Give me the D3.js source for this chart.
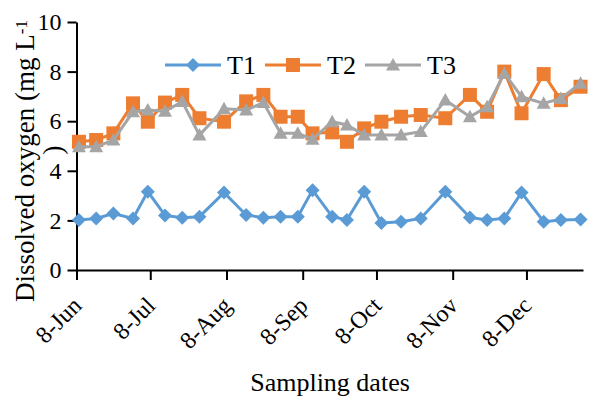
<!DOCTYPE html>
<html>
<head>
<meta charset="utf-8">
<script src="https://cdn.jsdelivr.net/npm/d3@7"></script>
</head>
<body style="margin:0; background:#fff">
<svg id="chart" width="593" height="401"></svg>
<script>
// sampling dates (weekly-ish, 2015)
const sampleDates = ["2015-06-09", "2015-06-16", "2015-06-23", "2015-07-01", "2015-07-07", "2015-07-14",
  "2015-07-21", "2015-07-28", "2015-08-07", "2015-08-16", "2015-08-23", "2015-08-30",
  "2015-09-06", "2015-09-12", "2015-09-20", "2015-09-26", "2015-10-03", "2015-10-10",
  "2015-10-18", "2015-10-26", "2015-11-05", "2015-11-15", "2015-11-22", "2015-11-29",
  "2015-12-06", "2015-12-15", "2015-12-22", "2015-12-30"];

const t1 = [2.02, 2.08, 2.28, 2.08, 3.16, 2.2, 2.11, 2.15, 3.12, 2.22, 2.11, 2.15,
  2.15, 3.22, 2.15, 2.02, 3.16, 1.9, 1.95, 2.08, 3.16, 2.12, 2.02, 2.08,
  3.12, 1.95, 2.02, 2.04];
const t2 = [5.17, 5.24, 5.51, 6.72, 5.98, 6.75, 7.06, 6.12, 5.98, 6.8, 7.06, 6.18,
  6.18, 5.51, 5.55, 5.17, 5.71, 5.98, 6.18, 6.25, 6.12, 7.06, 6.38, 8.0,
  6.32, 7.9, 6.85, 7.39];
const t3 = [4.97, 4.97, 5.24, 6.38, 6.45, 6.4, 6.79, 5.44, 6.5, 6.45, 6.75, 5.51,
  5.51, 5.27, 5.98, 5.85, 5.44, 5.44, 5.44, 5.58, 6.85, 6.18, 6.58, 7.93,
  6.99, 6.72, 6.92, 7.53];

const seriesNames = ["T1", "T2", "T3"];
const seriesColors = ["#5B9BD5", "#ED7D31", "#A5A5A5"];
const seriesShapes = ["diamond", "square", "triangle"];
const yTicks = [0, 2, 4, 6, 8, 10];
const monthTicks = ["2015-06-08", "2015-07-08", "2015-08-08", "2015-09-08", "2015-10-08", "2015-11-08", "2015-12-08"];

const fontFam = "Liberation Serif, serif";
const parse = d3.timeParse("%Y-%m-%d");
const svg = d3.select("#chart");

const x = d3.scaleTime()
  .domain([parse("2015-06-08"), parse("2015-12-31")])
  .range([76.5, 583]);
const y = d3.scaleLinear().domain([0, 10]).range([270, 22]);

// marker path by shape name
function marker(shape) {
  if (shape === "diamond") return "M0,-7L7,0L0,7L-7,0Z";
  if (shape === "square") return "M-7,-7H7V7H-7Z";
  return "M0,-7L7,5.5L-7,5.5Z";
}

// axes
const yAxis = svg.append("g")
  .attr("transform", "translate(76.5,0)")
  .call(d3.axisLeft(y).tickValues(yTicks).tickSize(9).tickSizeOuter(0).tickPadding(6));
yAxis.attr("font-family", fontFam).attr("font-size", 24);
yAxis.selectAll("text").attr("fill", "#000");

const xAxis = svg.append("g")
  .attr("transform", "translate(0,270)")
  .call(d3.axisBottom(x).tickValues(monthTicks.map(parse))
    .tickFormat(d3.timeFormat("%-d-%b")).tickSize(10).tickSizeOuter(0));
xAxis.attr("font-family", fontFam).attr("font-size", 24);
xAxis.selectAll("text")
  .attr("fill", "#000")
  .attr("text-anchor", "end")
  .attr("y", 0).attr("dy", 0)
  .attr("transform", "translate(6,37) rotate(-45)");

svg.selectAll(".domain, .tick line").attr("stroke", "#000").attr("stroke-width", 2);

// series
const allSeries = [t1, t2, t3];
const line = d3.line()
  .x(d => x(d.date))
  .y(d => y(d.v));

allSeries.forEach(function (vals, i) {
  const pts = vals.map((v, k) => ({ date: parse(sampleDates[k]), v: v }));
  svg.append("path")
    .datum(pts)
    .attr("d", line)
    .attr("fill", "none")
    .attr("stroke", seriesColors[i])
    .attr("stroke-width", 3);
  svg.selectAll(".m" + i).data(pts).enter().append("path")
    .attr("class", "m" + i)
    .attr("d", marker(seriesShapes[i]))
    .attr("transform", d => "translate(" + x(d.date) + "," + y(d.v) + ")")
    .attr("fill", seriesColors[i]);
});

// titles and legend share one group with the serif face
const labels = svg.append("g").attr("font-family", fontFam);

const legend = labels.append("g").attr("transform", "translate(165,65)");
seriesNames.forEach(function (name, i) {
  const g = legend.append("g").attr("transform", "translate(" + (i * 100) + ",0)");
  g.append("line").attr("x1", 0).attr("x2", 56).attr("y1", 0).attr("y2", 0)
    .attr("stroke", seriesColors[i]).attr("stroke-width", 3);
  g.append("path").attr("d", marker(seriesShapes[i]))
    .attr("transform", "translate(28,0)").attr("fill", seriesColors[i]);
  g.append("text").attr("x", 62).attr("y", 9)
    .attr("font-size", 26).text(name);
});

labels.append("text")
  .attr("x", 330).attr("y", 391)
  .attr("text-anchor", "middle")
  .attr("font-size", 26)
  .text("Sampling dates");

const yt = labels.append("text")
  .attr("transform", "translate(34,302) rotate(-90)")
  .attr("font-size", 27);
yt.append("tspan").text("Dissolved oxygen (mg L");
yt.append("tspan").attr("dy", "-0.4em").attr("font-size", 17).text("-1");
labels.append("text")
  .attr("transform", "translate(62,150) rotate(-90)")
  .attr("text-anchor", "middle")
  .attr("font-size", 27)
  .text(")");
</script>
</body>
</html>
